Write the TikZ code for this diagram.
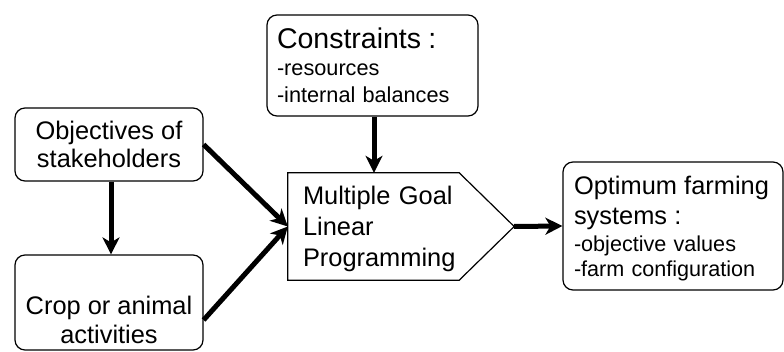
\documentclass[tikz,border=0pt]{standalone}
\usepackage{fontspec}
\setmainfont{Liberation Sans}
\usetikzlibrary{arrows.meta,calc}
\begin{document}
\begin{tikzpicture}[x=1pt,y=-1pt,
  box/.style={draw, rounded corners=10pt, line width=1.2pt, inner sep=0pt},
  bigfont/.style={font=\fontsize{25.4}{28.5}\selectfont},
  arr/.style={line width=5pt, -{Stealth[length=17pt,width=17pt,inset=5pt]}},
  txt/.style={inner sep=0pt}]
\useasboundingbox (0,0) rectangle (784,352);
% boxes
\node[box, bigfont, align=center, minimum width=188pt, minimum height=73pt] (obj) at (109,144.5)
  {Objectives of\\stakeholders};
\node[box, minimum width=188pt, minimum height=95pt] (crop) at (109,302.5) {};
\node[txt, bigfont, align=center] (cropt) at (109,319.8) {Crop or animal\\activities};
\node[box, inner xsep=10pt, text width=191pt, align=left, minimum height=101pt, text depth=54pt,
  font=\fontsize{21.7}{27}\selectfont] (cons) at (372.5,65.5)
  {{\fontsize{28.5}{27}\selectfont Constraints :}\\-resources\\-internal balances};
\node[box, inner xsep=11pt, text width=198pt, align=left, minimum height=128pt, text depth=82pt,
  font=\fontsize{21.6}{25}\selectfont] (opt) at (673,226)
  {{\fontsize{25.4}{25}\selectfont Optimum farming}\\[5pt]{\fontsize{25.4}{25}\selectfont systems :}\\[2pt]-objective values\\-farm configuration};
\node[inner xsep=15pt, inner ysep=0pt, text width=196pt, align=left, minimum height=107pt, text depth=62pt,
  font=\fontsize{25.4}{31}\selectfont] (mglp) at (401,226.5)
  {Multiple Goal\\Linear\\Programming};
\draw[line width=1.2pt] (mglp.north west) -- ($(mglp.north east)+(-55,0)$) -- (mglp.east)
  -- ($(mglp.south east)+(-55,0)$) -- (mglp.south west) -- cycle;
% connectors
\draw[arr] ([xshift=2pt]obj.south) -- ([xshift=2pt]crop.north);
\draw[arr] (obj.east) -- (mglp.west);
\draw[arr] ($(crop.east)+(0,17.5)$) -- (mglp.west);
\draw[arr] ([xshift=1.5pt]cons.south) -- ([xshift=1.5pt]cons.south |- mglp.north);
\draw[arr] (mglp.east) -- (opt.west);
\end{tikzpicture}
\end{document}
